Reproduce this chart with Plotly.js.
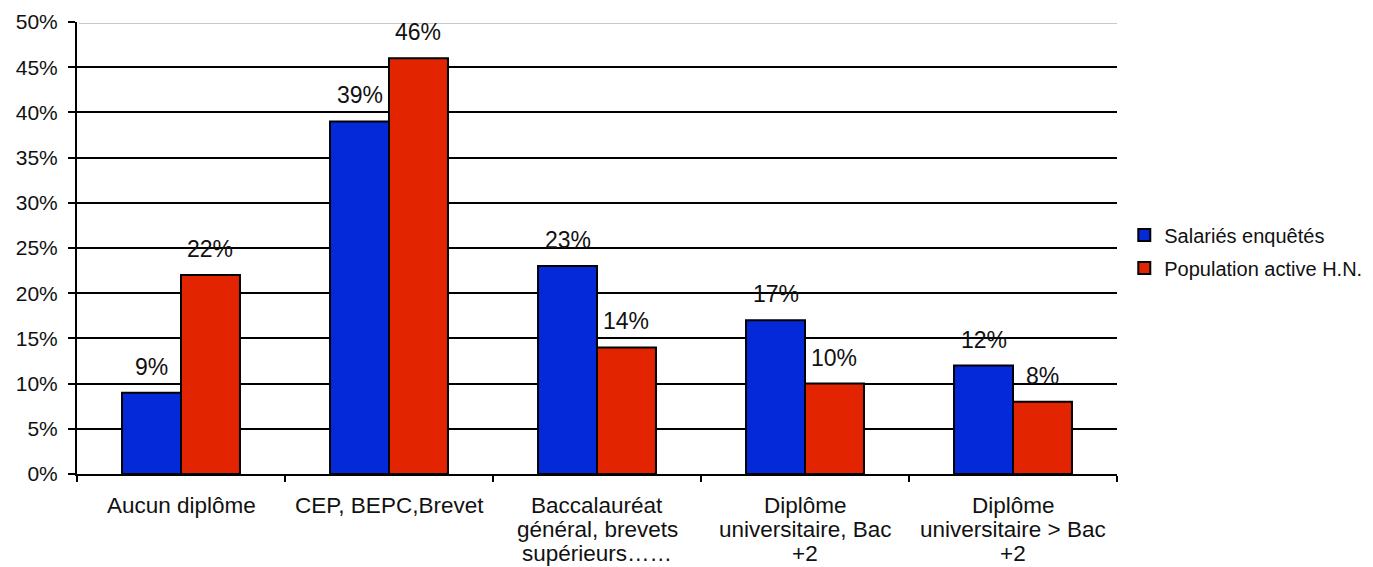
<!DOCTYPE html>
<html>
<head>
<meta charset="utf-8">
<script src="https://cdn.plot.ly/plotly-3.0.1.min.js"></script>
<style>html,body{margin:0;padding:0;background:#fff;}#chart{width:1373px;height:567px;}</style>
</head>
<body>
<div id="chart"></div>
<script>
const categories = [
  "Aucun diplôme",
  "CEP, BEPC,Brevet",
  "Baccalauréat<br>général, brevets<br>supérieurs……",
  "Diplôme<br>universitaire, Bac<br>+2",
  "Diplôme<br>universitaire > Bac<br>+2"
];
const salaries = [9, 39, 23, 17, 12];
const population = [22, 46, 14, 10, 8];
const seriesNames = ["Salariés enquêtés", "Population active H.N."];
const yTickVals = [0, 5, 10, 15, 20, 25, 30, 35, 40, 45, 50];
const yTickText = yTickVals.map(v => v + "%");

const FONT = "Liberation Sans, Arial, sans-serif";
const TXT = "#111";
const blue = "#0429D8";
const red = "#E32400";

const traces = [
  {type: "bar", name: seriesNames[0], x: categories, y: salaries, legendgroup: "a",
   marker: {color: blue, line: {color: "#000", width: 2}}, hoverinfo: "skip"},
  {type: "bar", name: seriesNames[1], x: categories, y: population, legendgroup: "b",
   marker: {color: red, line: {color: "#000", width: 2}}, hoverinfo: "skip"}
];

const plotW = 1373 - 77 - 256;
const barPx = plotW / categories.length * 0.567 / 2;
const annotations = [];
[salaries, population].forEach((vals, s) => {
  vals.forEach((v, i) => {
    annotations.push({
      x: categories[i], y: v, xref: "x", yref: "y",
      text: v + "%", showarrow: false,
      xshift: (s === 0 ? -1 : 1) * barPx / 2, yshift: 26,
      font: {family: FONT, size: 23, color: TXT}
    });
  });
});
// category labels, one annotation per line for tight line spacing
categories.forEach(c => {
  c.split("<br>").forEach((line, j) => {
    annotations.push({
      x: c, y: 0, xref: "x", yref: "paper", yanchor: "middle",
      text: line, showarrow: false, yshift: -(31 + j * 24),
      font: {family: FONT, size: 22.5, color: TXT}
    });
  });
});

const layout = {
  width: 1373, height: 567,
  margin: {l: 77, r: 256, t: 22, b: 93, pad: 0, autoexpand: false},
  paper_bgcolor: "#fff", plot_bgcolor: "#fff",
  barmode: "group", bargap: 0.433, bargroupgap: 0,
  font: {family: FONT, size: 21, color: TXT},
  showlegend: true,
  legend: {x: 1.007, xanchor: "left", y: 0.492, yanchor: "middle", traceorder: "grouped",
           font: {family: FONT, size: 20, color: TXT}, tracegroupgap: 4, itemwidth: 30},
  xaxis: {type: "category", showline: true, linecolor: "#000", linewidth: 2,
          ticks: "outside", tickson: "boundaries", ticklen: 6, tickwidth: 2, tickcolor: "#000",
          showticklabels: false,
          showgrid: false, zeroline: false, fixedrange: true},
  yaxis: {range: [0, 50], tickvals: yTickVals, ticktext: yTickText,
          showline: true, linecolor: "#000", linewidth: 2,
          ticks: "outside", ticklen: 7, tickwidth: 2, tickcolor: "#000",
          ticklabelstandoff: 6,
          showgrid: true, gridcolor: "#000", gridwidth: 2, zeroline: false,
          tickfont: {family: FONT, size: 21, color: TXT}, fixedrange: true},
  annotations: annotations,
  shapes: [
    {type: "line", xref: "paper", x0: 0.002, x1: 1, yref: "y", ysizemode: "pixel", yanchor: 50,
     y0: 0, y1: 0, line: {color: "#fff", width: 5}},
    {type: "line", xref: "paper", x0: 0.002, x1: 1, yref: "y", ysizemode: "pixel", yanchor: 50,
     y0: 1.5, y1: 1.5, line: {color: "#c8c8c8", width: 1}},
    {type: "line", xref: "paper", x0: 0.002, x1: 1, yref: "y", ysizemode: "pixel", yanchor: 50,
     y0: -1.5, y1: -1.5, line: {color: "#c8c8c8", width: 1}}
  ]
};

Plotly.newPlot("chart", traces, layout, {displayModeBar: false, staticPlot: true});
</script>
</body>
</html>
